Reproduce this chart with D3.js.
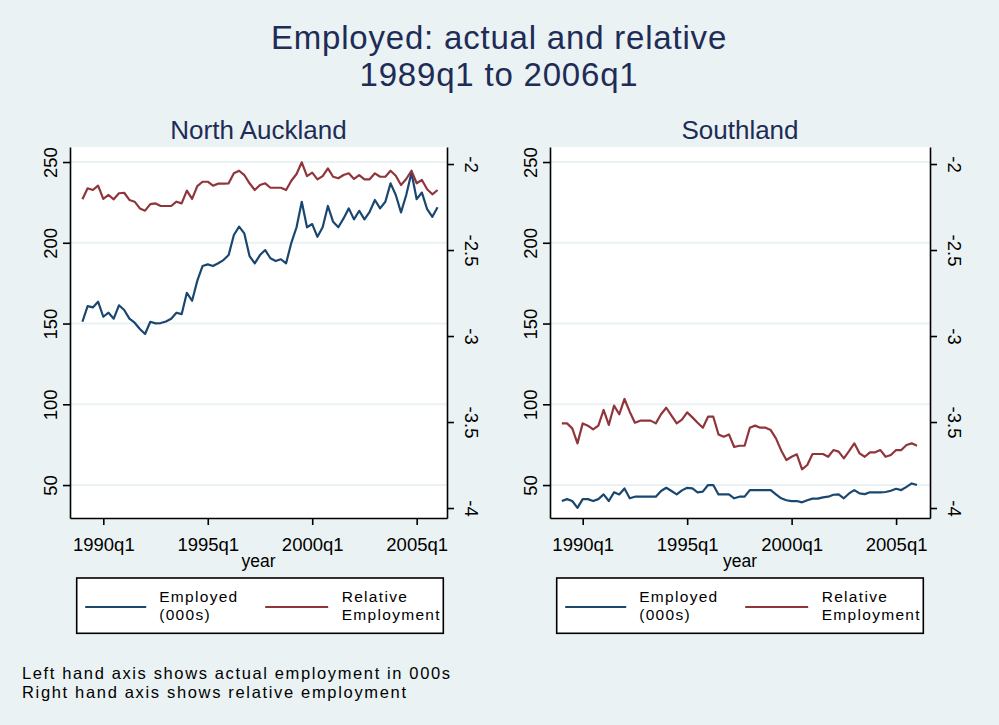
<!DOCTYPE html>
<html>
<head>
<meta charset="utf-8">
<script src="https://cdn.jsdelivr.net/npm/d3@7"></script>
<style>
  body { margin: 0; background: #eaf2f3; }
  svg { display: block; }
</style>
</head>
<body>
<svg id="chart" width="999" height="725"></svg>
<script>
// ---------------- DATA ----------------
const titleLines = ["Employed: actual and relative", "1989q1 to 2006q1"];
const panelNames = ["North Auckland", "Southland"];
const seriesNames = [["Employed", "(000s)"], ["Relative", "Employment"]];
const notes = ["Left hand axis shows actual employment in 000s", "Right hand axis shows relative employment"];
const xAxisTitle = "year";

const quarters = [
  "1989q1","1989q2","1989q3","1989q4","1990q1","1990q2","1990q3","1990q4",
  "1991q1","1991q2","1991q3","1991q4","1992q1","1992q2","1992q3","1992q4",
  "1993q1","1993q2","1993q3","1993q4","1994q1","1994q2","1994q3","1994q4",
  "1995q1","1995q2","1995q3","1995q4","1996q1","1996q2","1996q3","1996q4",
  "1997q1","1997q2","1997q3","1997q4","1998q1","1998q2","1998q3","1998q4",
  "1999q1","1999q2","1999q3","1999q4","2000q1","2000q2","2000q3","2000q4",
  "2001q1","2001q2","2001q3","2001q4","2002q1","2002q2","2002q3","2002q4",
  "2003q1","2003q2","2003q3","2003q4","2004q1","2004q2","2004q3","2004q4",
  "2005q1","2005q2","2005q3","2005q4","2006q1"
];

const xTickLabels = ["1990q1", "1995q1", "2000q1", "2005q1"];
const leftTicks = [50, 100, 150, 200, 250];
const rightTicks = [-2, -2.5, -3, -3.5, -4];

// North Auckland
const naEmployed = [
  151.1,160.8,160.0,163.5,154.2,156.7,153.0,161.3,158.4,153.0,
  150.5,146.6,143.5,151.1,150.1,150.3,151.3,153.0,156.7,155.8,
  169.0,164.1,176.5,185.6,186.6,185.6,187.3,189.3,192.4,204.8,
  210.0,205.8,191.8,187.3,192.4,195.5,190.4,188.7,189.8,187.3,
  200.0,209.6,225.4,209.6,211.6,203.7,209.6,222.8,213.0,209.6,
  215.1,221.3,214.5,219.8,214.5,219.2,226.5,221.3,225.4,236.8,
  229.6,218.8,229.6,243.4,227.0,231.1,220.8,216.1,222.0
];
const naRelative = [
  -2.205,-2.141,-2.151,-2.126,-2.203,-2.180,-2.205,-2.170,-2.167,-2.209,
  -2.219,-2.258,-2.271,-2.233,-2.229,-2.244,-2.244,-2.244,-2.219,-2.229,
  -2.155,-2.203,-2.128,-2.103,-2.103,-2.126,-2.114,-2.114,-2.112,-2.054,
  -2.039,-2.064,-2.112,-2.151,-2.122,-2.112,-2.138,-2.138,-2.138,-2.151,
  -2.097,-2.058,-1.990,-2.070,-2.050,-2.089,-2.070,-2.025,-2.074,-2.083,
  -2.064,-2.054,-2.087,-2.064,-2.089,-2.089,-2.054,-2.074,-2.074,-2.039,
  -2.068,-2.122,-2.087,-2.039,-2.112,-2.093,-2.147,-2.176,-2.151
];

// Southland
const slEmployed = [
  40.1,41.3,40.1,35.9,41.3,41.3,40.1,41.3,44.2,40.1,
  45.5,44.2,47.9,41.8,42.8,42.8,42.8,42.8,42.8,46.3,
  48.3,46.3,44.2,46.7,48.3,47.9,45.5,45.9,50.0,50.0,
  44.2,44.2,44.2,41.8,42.8,42.8,46.9,46.9,46.9,46.9,
  46.9,44.2,41.8,40.6,40.1,40.1,39.3,40.6,41.6,41.6,
  42.4,42.8,44.0,44.2,41.8,44.8,46.9,44.8,44.4,45.5,
  45.5,45.5,45.7,46.5,47.7,46.9,48.9,51.0,50.0
];
const slRelative = [
  -3.508,-3.508,-3.537,-3.624,-3.508,-3.521,-3.543,-3.521,-3.430,-3.517,
  -3.405,-3.455,-3.366,-3.440,-3.504,-3.492,-3.492,-3.492,-3.508,-3.455,
  -3.417,-3.463,-3.508,-3.486,-3.444,-3.473,-3.504,-3.533,-3.469,-3.469,
  -3.572,-3.585,-3.572,-3.645,-3.638,-3.638,-3.533,-3.521,-3.533,-3.533,
  -3.547,-3.595,-3.665,-3.721,-3.702,-3.688,-3.775,-3.750,-3.686,-3.686,
  -3.686,-3.702,-3.663,-3.672,-3.711,-3.669,-3.624,-3.682,-3.702,-3.676,
  -3.676,-3.663,-3.702,-3.692,-3.663,-3.663,-3.634,-3.624,-3.638
];

// ---------------- DRAWING ----------------
const FONT = '"Liberation Sans", Arial, Helvetica, sans-serif';
const BG = "#eaf2f3";
const BLUE = "#1a476f";
const RED = "#90353b";
const NAVY = "#1e2c56";

// Stata %tq index (quarters since 1960q1)
const tq = s => (+s.slice(0, 4) - 1960) * 4 + (+s.slice(5) - 1);

const svg = d3.select("#chart");
svg.append("rect").attr("width", 999).attr("height", 725).attr("fill", BG);

svg.selectAll("text.title").data(titleLines).enter().append("text")
  .attr("class", "title")
  .attr("x", 499).attr("y", (d, i) => 48.5 + i * 37.5)
  .attr("text-anchor", "middle")
  .attr("font-family", FONT).attr("font-size", 33).attr("letter-spacing", 0.8)
  .attr("fill", NAVY)
  .text(d => d);

const panels = [
  { name: panelNames[0], left: 70, right: 447, t1990: 103.3, employed: naEmployed, relative: naRelative },
  { name: panelNames[1], left: 550, right: 930, t1990: 582.7, employed: slEmployed, relative: slRelative }
];
const TOP = 147, BOTTOM = 518;
const PX_PER_Q = 5.223;
const TICK_FONT = 18.5;

const yL = d3.scaleLinear().domain([29.6, 259.3]).range([BOTTOM, TOP]);
const yR = d3.scaleLinear().domain([-4.058, -1.901]).range([BOTTOM, TOP]);

function styleAxis(g) {
  g.attr("font-family", FONT).attr("font-size", TICK_FONT);
  g.selectAll("path.domain").attr("stroke", "#000").attr("stroke-width", 1.6);
  g.selectAll(".tick line").attr("stroke", "#000").attr("stroke-width", 1.6);
  g.selectAll(".tick text").attr("fill", "#000");
}

panels.forEach(P => {
  const g = svg.append("g");
  const x0 = tq(xTickLabels[0]);
  const qLeft = x0 - (P.t1990 - P.left) / PX_PER_Q;
  const qRight = x0 + (P.right - P.t1990) / PX_PER_Q;
  const x = d3.scaleLinear().domain([qLeft, qRight]).range([P.left, P.right]);

  // plot region
  g.append("rect")
    .attr("x", P.left).attr("y", TOP)
    .attr("width", P.right - P.left).attr("height", BOTTOM - TOP)
    .attr("fill", "#fff");

  // gridlines
  g.selectAll("line.grid").data(leftTicks).enter().append("line")
    .attr("class", "grid")
    .attr("x1", P.left).attr("x2", P.right)
    .attr("y1", d => yL(d)).attr("y2", d => yL(d))
    .attr("stroke", BG).attr("stroke-width", 2);

  // series
  const lineL = d3.line().x((d, i) => x(tq(quarters[i]))).y(d => yL(d));
  const lineR = d3.line().x((d, i) => x(tq(quarters[i]))).y(d => yR(d));
  g.append("path").datum(P.employed).attr("d", lineL)
    .attr("fill", "none").attr("stroke", BLUE).attr("stroke-width", 2.2)
    .attr("stroke-linejoin", "round");
  g.append("path").datum(P.relative).attr("d", lineR)
    .attr("fill", "none").attr("stroke", RED).attr("stroke-width", 2.2)
    .attr("stroke-linejoin", "round");

  // left axis
  const gl = g.append("g").attr("transform", `translate(${P.left},0)`)
    .call(d3.axisLeft(yL).tickValues(leftTicks).tickSize(7).tickSizeOuter(0).tickFormat(d => String(d)));
  styleAxis(gl);
  gl.selectAll(".tick text")
    .attr("x", 0).attr("y", 0).attr("dy", 0)
    .attr("text-anchor", "middle")
    .attr("transform", "translate(-13,0) rotate(-90)");

  // right axis
  const gr = g.append("g").attr("transform", `translate(${P.right},0)`)
    .call(d3.axisRight(yR).tickValues(rightTicks).tickSize(7).tickSizeOuter(0).tickFormat(d => String(d)));
  styleAxis(gr);
  gr.selectAll(".tick text")
    .attr("x", 0).attr("y", 0).attr("dy", 0)
    .attr("text-anchor", "middle")
    .attr("transform", "translate(18,0) rotate(90)");

  // bottom axis
  const gb = g.append("g").attr("transform", `translate(0,${BOTTOM})`)
    .call(d3.axisBottom(x).tickValues(xTickLabels.map(tq)).tickSize(7).tickSizeOuter(0)
      .tickFormat((d, i) => xTickLabels[i]));
  styleAxis(gb);
  gb.selectAll(".tick text").attr("y", 33).attr("dy", 0);

  // panel title
  const cx = (P.left + P.right) / 2;
  g.append("text").attr("x", cx).attr("y", 139)
    .attr("text-anchor", "middle").attr("font-family", FONT).attr("font-size", 26)
    .attr("fill", NAVY).text(P.name);

  // x title
  g.append("text").attr("x", cx).attr("y", 567)
    .attr("text-anchor", "middle").attr("font-family", FONT).attr("font-size", 17.5)
    .attr("fill", "#000").text(xAxisTitle);

  // legend
  const lg = g.append("g").attr("transform", `translate(${P.left + 6.7},578)`);
  lg.append("rect").attr("width", 366.6).attr("height", 55.3)
    .attr("fill", "#fff").attr("stroke", "#000").attr("stroke-width", 1.6);
  const legendItems = [
    { color: BLUE, x1: 8.5, x2: 69.5, tx: 82.5, lines: seriesNames[0] },
    { color: RED, x1: 188.5, x2: 251.5, tx: 265, lines: seriesNames[1] }
  ];
  legendItems.forEach(it => {
    lg.append("line").attr("x1", it.x1).attr("x2", it.x2).attr("y1", 29).attr("y2", 29)
      .attr("stroke", it.color).attr("stroke-width", 2.2);
    it.lines.forEach((t, j) => {
      lg.append("text").attr("x", it.tx).attr("y", 24 + j * 17.5)
        .attr("font-family", FONT).attr("font-size", 15.5).attr("letter-spacing", 1.3)
        .attr("fill", "#000").text(t);
    });
  });
});

// notes
const noteWidths = [428, 384];
svg.selectAll("text.note").data(notes).enter().append("text")
  .attr("class", "note")
  .attr("x", 22).attr("y", (d, i) => 679 + i * 18.8)
  .attr("font-family", FONT).attr("font-size", 16.5)
  .attr("textLength", (d, i) => noteWidths[i]).attr("lengthAdjust", "spacing")
  .attr("fill", "#000").text(d => d);
</script>
</body>
</html>
